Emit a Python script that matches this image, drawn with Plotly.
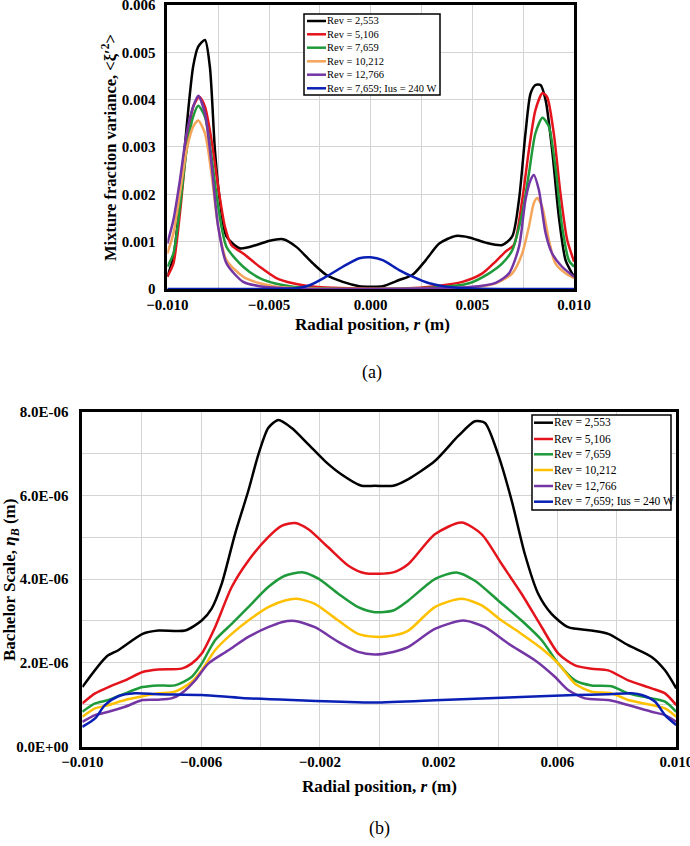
import plotly.graph_objects as go

# ---- (a) mixture fraction variance vs radial position ----
names = ["Rev = 2,553", "Rev = 5,106", "Rev = 7,659", "Rev = 10,212",
         "Rev = 12,766", "Rev = 7,659; Ius = 240 W"]

r_a_2553 = [-0.0100, -0.0097, -0.00938, -0.00905, -0.00873, -0.00848, -0.00815, -0.00791,
            -0.00766, -0.00742, -0.00709, -0.00644, -0.00562, -0.00497, -0.00431, -0.00366,
            -0.00284, -0.00219, -0.00137, -0.00056, 0.0, 0.00059, 0.0014, 0.00206, 0.00271,
            0.00337, 0.00418, 0.00484, 0.00565, 0.00647, 0.00696, 0.00729, 0.00761, 0.00786,
            0.0081, 0.00835, 0.0086, 0.00892, 0.00925, 0.00958, 0.0099, 0.0100]
var_2553 = [0.00026, 0.00068, 0.00188, 0.00343, 0.00470, 0.00512, 0.00526, 0.00470,
            0.00294, 0.00188, 0.00111, 0.00086, 0.00093, 0.00102, 0.00105, 0.00089,
            0.00054, 0.00030, 0.00015, 0.00006, 0.00005, 0.00006, 0.00019, 0.00030, 0.00061,
            0.00096, 0.00112, 0.00109, 0.00098, 0.00093, 0.00111, 0.00188, 0.00329, 0.00413,
            0.00431, 0.00431, 0.00399, 0.00294, 0.00153, 0.00061, 0.00033, 0.00026]

r_a_5106 = [-0.0100, -0.0097, -0.00938, -0.00905, -0.00873, -0.00843, -0.00815, -0.00783,
            -0.0075, -0.00717, -0.00685, -0.00627, -0.00546, -0.00464, -0.00382, -0.0030,
            -0.00219, -0.00056, 0.00157, 0.0032, 0.00451, 0.00549, 0.00614, 0.00663, 0.00704,
            0.00745, 0.00778, 0.0081, 0.00845, 0.00868, 0.0090, 0.00933, 0.00966, 0.0100]
var_5106 = [0.00026, 0.00054, 0.00160, 0.00301, 0.00385, 0.00406, 0.00385, 0.00315,
            0.00216, 0.00132, 0.00093, 0.00075, 0.00047, 0.00023, 0.00012, 0.00006,
            0.00003, 0.00001, 0.00001, 0.00006, 0.00015, 0.00033, 0.00058, 0.00079, 0.00093,
            0.00188, 0.00294, 0.00378, 0.00414, 0.00405, 0.00329, 0.00202, 0.00104, 0.00058]

r_a_7659 = [-0.0100, -0.0097, -0.00938, -0.00905, -0.00873, -0.00848, -0.00815, -0.00783,
            -0.0075, -0.00709, -0.00627, -0.00546, -0.00464, -0.00382, -0.00219, 0.0, 0.0032,
            0.00484, 0.00582, 0.00647, 0.00696, 0.00745, 0.00778, 0.0081, 0.00845, 0.00876,
            0.00908, 0.00941, 0.00974, 0.0100]
var_7659 = [0.00047, 0.00075, 0.00174, 0.00294, 0.00364, 0.00387, 0.00364, 0.00280,
            0.00174, 0.00089, 0.00047, 0.00023, 0.00011, 0.00005, 0.00001, 0.0, 0.00003,
            0.00012, 0.00033, 0.00054, 0.00082, 0.00160, 0.00244, 0.00329, 0.00362, 0.00343,
            0.00258, 0.00132, 0.00061, 0.00047]

r_a_10212 = [-0.0100, -0.0097, -0.00938, -0.00905, -0.00873, -0.00848, -0.00815, -0.00783,
             -0.0075, -0.00709, -0.00627, -0.00546, -0.00464, -0.0030, 0.0, 0.00484, 0.00614,
             0.00696, 0.00745, 0.00778, 0.00802, 0.00819, 0.00843, 0.00876, 0.00908, 0.00958,
             0.0100]
var_10212 = [0.00075, 0.00118, 0.00202, 0.00294, 0.00343, 0.00356, 0.00329, 0.00244,
             0.00132, 0.00061, 0.00026, 0.00012, 0.00005, 0.00001, 0.0, 0.00003, 0.00012,
             0.00033, 0.00075, 0.00132, 0.00181, 0.00192, 0.00174, 0.00104, 0.00054, 0.00033,
             0.00023]

r_a_12766 = [-0.0100, -0.0097, -0.00938, -0.00905, -0.00873, -0.00848, -0.00815, -0.00783,
             -0.0075, -0.00709, -0.00627, -0.00546, -0.00382, 0.0, 0.00484, 0.00614, 0.0068,
             0.00729, 0.00761, 0.00786, 0.00802, 0.00827, 0.0086, 0.00892, 0.00941, 0.0100]
var_12766 = [0.00096, 0.00146, 0.00230, 0.00329, 0.00385, 0.00408, 0.00371, 0.00265,
             0.00132, 0.00054, 0.00015, 0.00006, 0.00001, 0.0, 0.00004, 0.00013, 0.00033,
             0.00089, 0.00188, 0.00230, 0.00241, 0.00209, 0.00118, 0.00075, 0.00047, 0.00026]

r_a_ius = [-0.0100, -0.0060, -0.00382, -0.0030, -0.00219, -0.00137, -0.00056, 0.0, 0.00059,
           0.0014, 0.00206, 0.00288, 0.00369, 0.0050, 0.0100]
var_ius = [0.0, 0.0, 0.00001, 0.00008, 0.00026, 0.00047, 0.00065, 0.00067, 0.00061,
           0.00040, 0.00026, 0.00012, 0.00005, 0.00001, 0.0]

# ---- (b) Batchelor scale vs radial position (values in 1E-06 m) ----
r_b_2553 = [-0.010, -0.00918, -0.00879, -0.00797, -0.00744, -0.00654, -0.00598, -0.00565,
            -0.00531, -0.00486, -0.00441, -0.00407, -0.00374, -0.0034, -0.00295, -0.00239,
            -0.00183, -0.00127, -0.0006, -0.00015, 0.00047, 0.00098, 0.00187, 0.00266,
            0.00322, 0.00356, 0.004, 0.00446, 0.0049, 0.00535, 0.0058, 0.00636, 0.00715,
            0.00771, 0.00838, 0.00917, 0.00962, 0.010]
eta_2553 = [1.42, 2.15, 2.30, 2.69, 2.77, 2.77, 3.01, 3.29, 3.88, 5.07, 6.11, 6.98, 7.61,
            7.80, 7.61, 7.22, 6.82, 6.50, 6.23, 6.23, 6.23, 6.39, 6.82, 7.42, 7.77, 7.73,
            6.98, 5.87, 4.60, 3.65, 3.17, 2.85, 2.77, 2.69, 2.42, 2.14, 1.82, 1.39]

r_b_5106 = [-0.010, -0.00957, -0.00912, -0.00856, -0.00797, -0.00744, -0.00666, -0.00632,
            -0.00598, -0.00553, -0.00497, -0.00441, -0.00374, -0.00329, -0.00284, -0.00239,
            -0.00172, -0.00104, -0.00048, 0.00047, 0.00098, 0.00187, 0.00277, 0.00345,
            0.00412, 0.00479, 0.00547, 0.00603, 0.00659, 0.00715, 0.00771, 0.00838, 0.00917,
            0.00962, 0.010]
eta_5106 = [1.03, 1.27, 1.42, 1.58, 1.78, 1.84, 1.86, 1.98, 2.22, 2.85, 3.81, 4.44, 5.00,
            5.27, 5.34, 5.19, 4.76, 4.32, 4.14, 4.16, 4.36, 5.07, 5.35, 5.07, 4.36, 3.65,
            2.85, 2.22, 1.94, 1.86, 1.82, 1.58, 1.39, 1.27, 0.99]

r_b_7659 = [-0.010, -0.00957, -0.00912, -0.00856, -0.00797, -0.00744, -0.00688, -0.00632,
            -0.00598, -0.00553, -0.00497, -0.00441, -0.00374, -0.00318, -0.00256, -0.00205,
            -0.00138, -0.00071, -0.00015, 0.00047, 0.00098, 0.00187, 0.0026, 0.00322, 0.004,
            0.00479, 0.00547, 0.00603, 0.00659, 0.00715, 0.00782, 0.00838, 0.00917, 0.00962,
            0.010]
eta_7659 = [0.83, 1.03, 1.11, 1.27, 1.42, 1.46, 1.46, 1.66, 1.98, 2.54, 2.93, 3.33, 3.81,
            4.08, 4.16, 4.01, 3.65, 3.33, 3.21, 3.25, 3.49, 4.00, 4.16, 3.96, 3.49, 3.01,
            2.54, 1.98, 1.58, 1.46, 1.44, 1.27, 1.15, 1.07, 0.83]

r_b_10212 = [-0.010, -0.00957, -0.00912, -0.00856, -0.00797, -0.00744, -0.00688, -0.00632,
             -0.00598, -0.00553, -0.00497, -0.00441, -0.00374, -0.00318, -0.00278, -0.00217,
             -0.00138, -0.00071, -0.00015, 0.00047, 0.00098, 0.00187, 0.00277, 0.00345,
             0.00412, 0.00479, 0.00547, 0.00603, 0.00659, 0.00715, 0.00782, 0.00838, 0.00917,
             0.00962, 0.010]
eta_10212 = [0.71, 0.91, 0.99, 1.11, 1.20, 1.27, 1.31, 1.54, 1.82, 2.30, 2.69, 3.01, 3.33,
             3.49, 3.53, 3.41, 3.01, 2.69, 2.62, 2.65, 2.77, 3.33, 3.53, 3.37, 3.01, 2.69,
             2.34, 1.98, 1.50, 1.31, 1.27, 1.11, 0.99, 0.91, 0.71]

r_b_12766 = [-0.010, -0.00957, -0.00912, -0.00856, -0.00797, -0.00744, -0.0070, -0.00666,
             -0.0062, -0.00576, -0.00508, -0.00441, -0.00374, -0.00329, -0.00284, -0.00217,
             -0.00138, -0.00071, -0.00015, 0.00047, 0.00098, 0.00187, 0.00283, 0.00356,
             0.00434, 0.00524, 0.00592, 0.00636, 0.00692, 0.00771, 0.00838, 0.00917, 0.00962,
             0.010]
eta_12766 = [0.59, 0.75, 0.83, 0.95, 1.11, 1.12, 1.15, 1.27, 1.58, 1.98, 2.30, 2.62, 2.85,
             2.97, 3.00, 2.85, 2.50, 2.26, 2.20, 2.26, 2.38, 2.81, 3.01, 2.85, 2.46, 2.06,
             1.66, 1.35, 1.15, 1.11, 0.99, 0.83, 0.75, 0.59]

r_b_ius = [-0.010, -0.00957, -0.00924, -0.00879, -0.00823, -0.00744, -0.00598, -0.00463,
           -0.00295, -0.00127, -0.00015, 0.0021, 0.00434, 0.00659, 0.00771, 0.0085, 0.00884,
           0.00929, 0.00962, 0.010]
eta_ius = [0.47, 0.67, 0.99, 1.20, 1.27, 1.25, 1.23, 1.16, 1.11, 1.07, 1.05, 1.11, 1.17,
           1.23, 1.25, 1.27, 1.23, 1.07, 0.75, 0.51]

ytick_a = [0, 0.001, 0.002, 0.003, 0.004, 0.005, 0.006]
ytick_b = [0, 2e-6, 4e-6, 6e-6, 8e-6]

colors_a = ["#000000", "#e3141c", "#1f9a3a", "#f5a55a", "#7436a4", "#0a1fb4"]
colors_b = ["#000000", "#e3141c", "#1f9a3a", "#ffc000", "#7436a4", "#0a1fb4"]

serif = "Liberation Serif, Times New Roman, serif"
W, H = 690, 846

fig = go.Figure()

series_a = [(r_a_2553, var_2553), (r_a_5106, var_5106), (r_a_7659, var_7659),
            (r_a_10212, var_10212), (r_a_12766, var_12766), (r_a_ius, var_ius)]
for (x, y), name, c in zip(series_a, names, colors_a):
    fig.add_trace(go.Scatter(x=x, y=y, name=name, mode="lines", showlegend=False,
                             line=dict(color=c, width=2.5, shape="spline", smoothing=0.7),
                             xaxis="x", yaxis="y"))

series_b = [(r_b_2553, eta_2553), (r_b_5106, eta_5106), (r_b_7659, eta_7659),
            (r_b_10212, eta_10212), (r_b_12766, eta_12766), (r_b_ius, eta_ius)]
for (x, y), name, c in zip(series_b, names, colors_b):
    fig.add_trace(go.Scatter(x=x, y=[v * 1e-6 for v in y], name=name, mode="lines",
                             showlegend=False,
                             line=dict(color=c, width=2.5, shape="spline", smoothing=0.7),
                             xaxis="x2", yaxis="y2"))

tickfont = dict(family=serif, size=15, color="black", weight="bold")
grid = "#d4d4d4"
axis_common = dict(showline=True, linecolor="black", linewidth=2.5, mirror=True,
                   showgrid=True, gridcolor=grid, gridwidth=1, zeroline=False, ticks="",
                   tickfont=tickfont, automargin=False, ticklabeloverflow="allow")

fig.update_layout(
    template="none",
    width=W, height=H,
    margin=dict(l=0, r=0, t=0, b=0, autoexpand=False),
    paper_bgcolor="white", plot_bgcolor="white",
    xaxis=dict(domain=[0.2425, 0.832], anchor="y", range=[-0.010, 0.010],
               dtick=0.005, tick0=-0.010, tickformat=".3f",
               minor=dict(dtick=0.0025, tick0=-0.010, showgrid=True, gridcolor=grid),
               **axis_common),
    yaxis=dict(domain=[0.6584, 0.9941], anchor="x", range=[0, 0.006],
               tickvals=ytick_a, ticktext=["0"] + [f"{v:.3f}" for v in ytick_a[1:]],
               ticklabelstandoff=6, **axis_common),
    xaxis2=dict(domain=[0.1193, 0.9801], anchor="y2", range=[-0.010, 0.010],
                dtick=0.004, tick0=-0.010, tickformat=".3f",
                minor=dict(dtick=0.002, tick0=-0.010, showgrid=True, gridcolor=grid),
                **axis_common),
    yaxis2=dict(domain=[0.1176, 0.5134], anchor="x2", range=[0, 8e-6],
                tickvals=ytick_b, ticktext=[f"{v:.1E}" for v in ytick_b],
                minor=dict(dtick=1e-6, showgrid=True, gridcolor=grid),
                ticklabelstandoff=8, **axis_common),
)


# legends drawn as boxes with short line samples (pixel positions)
def add_legend(box, rows, line_x, text_x, colors, size):
    x0, y0, x1, y1 = box
    fig.add_shape(type="rect", xref="paper", yref="paper",
                  x0=x0 / W, x1=x1 / W, y0=1 - y0 / H, y1=1 - y1 / H,
                  line=dict(color="black", width=1.5), fillcolor="white", layer="above")
    for yy, name, c in zip(rows, names, colors):
        fig.add_shape(type="line", xref="paper", yref="paper",
                      x0=line_x[0] / W, x1=line_x[1] / W, y0=1 - yy / H, y1=1 - yy / H,
                      line=dict(color=c, width=2.5), layer="above")
        fig.add_annotation(xref="paper", yref="paper", x=text_x / W, y=1 - yy / H,
                           text=name, showarrow=False, xanchor="left", yanchor="middle",
                           borderpad=0, font=dict(family=serif, size=size, color="black"))


add_legend((304, 14, 440, 95), [21, 34.3, 47.7, 61.3, 74.7, 88.3], (307, 326), 326,
           colors_a, 10.5)
add_legend((532, 415, 671, 510), [422.7, 439, 454.3, 470, 486, 501.7], (534, 553), 553,
           colors_b, 11.5)

title_font = dict(family=serif, size=17, color="black", weight="bold")
annots = [
    dict(x=372, y=325, text="Radial position, <i>r</i> (m)", font=title_font),
    dict(x=110, y=147, text="Mixture fraction variance, &lt;ξ′<sup>2</sup>&gt;",
         font=dict(title_font, size=16.5), textangle=-90),
    dict(x=372, y=372, text="(a)", font=dict(family=serif, size=18, color="black")),
    dict(x=379, y=786, text="Radial position, <i>r</i> (m)", font=title_font),
    dict(x=11, y=580, text="Bachelor Scale, <i>η<sub>B</sub></i> (m)",
         font=title_font, textangle=-90),
    dict(x=379, y=828, text="(b)", font=dict(family=serif, size=18, color="black")),
]
for a in annots:
    a["x"] = a["x"] / W
    a["y"] = 1 - a["y"] / H
    fig.add_annotation(xref="paper", yref="paper", showarrow=False,
                       xanchor="center", yanchor="middle", **a)

# drop the page's default body margin so the figure sits at the window origin
fig.write_html("out.html", config={"displayModeBar": False},
               post_script="document.body.style.margin='0px';"
                           "document.body.style.overflow='hidden';")
